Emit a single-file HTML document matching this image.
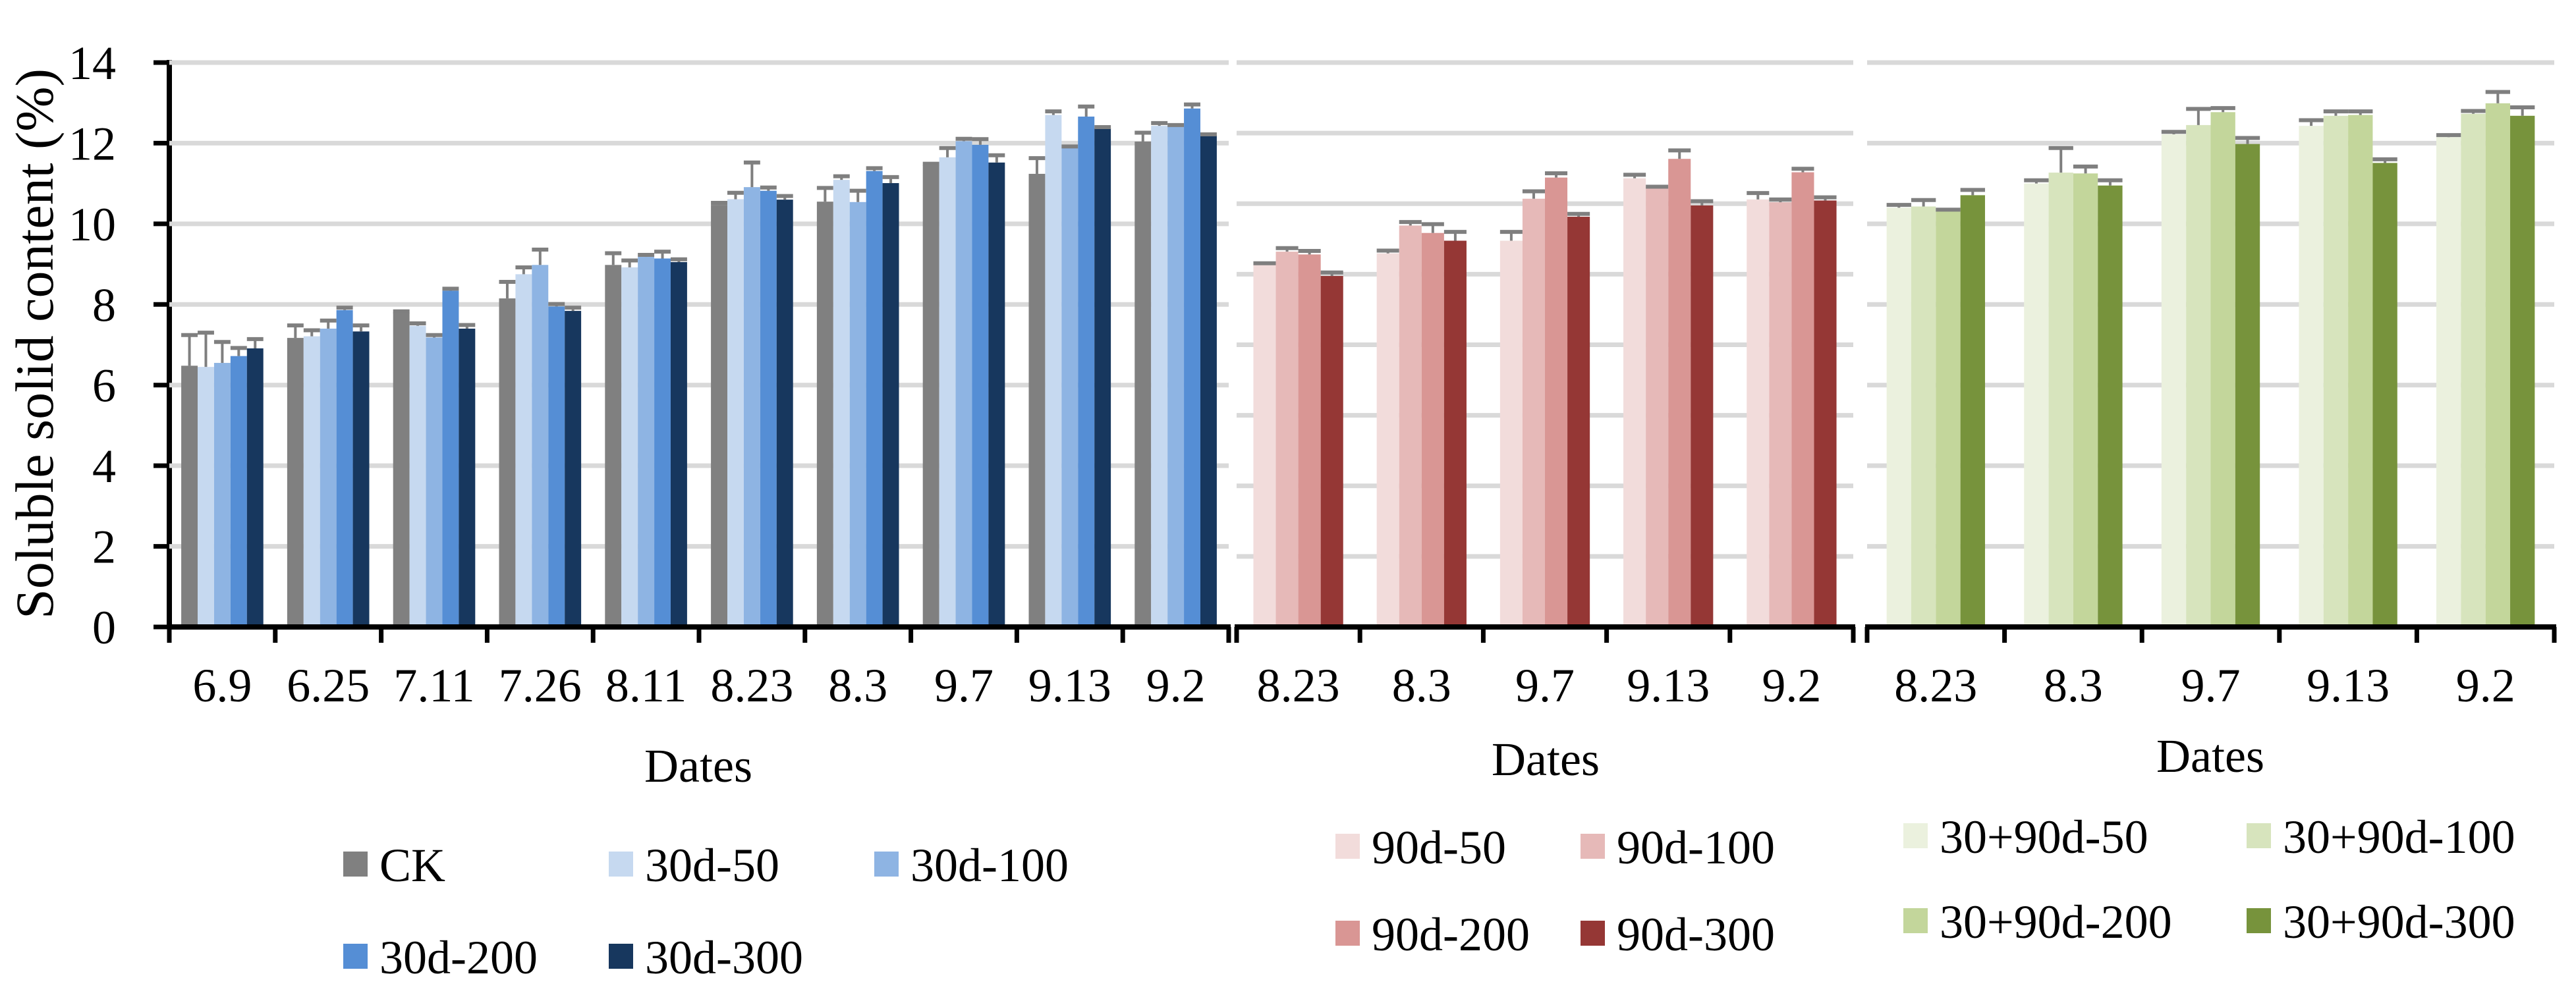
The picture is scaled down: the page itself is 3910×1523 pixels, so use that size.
<!DOCTYPE html>
<html><head><meta charset="utf-8">
<style>
html,body{margin:0;padding:0;background:#fff;}
svg{display:block;}
text{font-family:"Liberation Serif","Times New Roman",serif;fill:#000;}
</style></head>
<body>
<svg id="chart" width="3910" height="1523" viewBox="0 0 3910 1523" xmlns="http://www.w3.org/2000/svg"></svg>
<script>
const p1Categories = ["6.9","6.25","7.11","7.26","8.11","8.23","8.3","9.7","9.13","9.2"];
const p1Series = ["CK","30d-50","30d-100","30d-200","30d-300"];
const p1Values = [
 [6.48,7.17,7.80,8.15,8.98,10.47,10.55,11.46,11.24,12.04],
 [6.45,7.21,7.47,8.75,8.92,10.61,11.09,11.65,12.70,12.43],
 [6.55,7.40,7.18,8.98,9.18,10.91,10.54,12.05,11.89,12.43],
 [6.72,7.86,8.34,7.95,9.14,10.82,11.31,11.96,12.66,12.86],
 [6.91,7.33,7.40,7.84,9.05,10.60,11.01,11.52,12.37,12.20]
];
const p1Errors = [
 [0.76,0.31,0.03,0.41,0.29,0.05,0.34,0.03,0.39,0.22],
 [0.85,0.15,0.06,0.17,0.17,0.16,0.09,0.23,0.09,0.07],
 [0.52,0.20,0.06,0.38,0.05,0.61,0.28,0.06,0.03,0.02],
 [0.20,0.06,0.05,0.06,0.17,0.08,0.07,0.14,0.25,0.10],
 [0.23,0.15,0.09,0.08,0.07,0.09,0.15,0.18,0.03,0.02]
];
const p2Categories = ["8.23","8.3","9.7","9.13","9.2"];
const p2Series = ["90d-50","90d-100","90d-200","90d-300"];
const p2Values = [
 [10.26,10.59,10.95,12.72,12.12],
 [10.64,11.38,12.14,12.46,12.04],
 [10.56,11.17,12.74,13.27,12.89],
 [9.95,10.95,11.63,11.95,12.09]
];
const p2Errors = [
 [0.05,0.08,0.25,0.10,0.18],
 [0.10,0.10,0.21,0.02,0.08],
 [0.10,0.25,0.12,0.24,0.10],
 [0.10,0.25,0.08,0.12,0.09]
];
const p3Categories = ["8.23","8.3","9.7","9.13","9.2"];
const p3Series = ["30+90d-50","30+90d-100","30+90d-200","30+90d-300"];
const p3Values = [
 [10.40,11.00,12.22,12.43,12.15],
 [10.43,11.27,12.45,12.68,12.73],
 [10.32,11.25,12.77,12.70,12.99],
 [10.71,10.95,11.98,11.51,12.68]
];
const p3Errors = [
 [0.07,0.08,0.06,0.14,0.05],
 [0.16,0.61,0.40,0.11,0.07],
 [0.03,0.17,0.10,0.09,0.28],
 [0.13,0.13,0.15,0.09,0.21]
];
const yTicks = [0,2,4,6,8,10,12,14];

const NS="http://www.w3.org/2000/svg";
const svg=document.getElementById('chart');
function el(tag,attrs,parent){const e=document.createElementNS(NS,tag);for(const k in attrs)e.setAttribute(k,attrs[k]);(parent||svg).appendChild(e);return e;}
function txt(s,x,y,anchor,parent,size){const t=el('text',{x:x,y:y,'font-size':size||72,'text-anchor':anchor||'middle'},parent);t.textContent=s;return t;}

const TOP=95, BASE=952;
function panel(cfg){
  const g=el('g',{});
  
  
  const yS=v=>BASE-(v/cfg.yMax)*(BASE-TOP);
  for(let v=cfg.step; v<=cfg.yMax; v+=cfg.step){
    const l=el('line',{x1:cfg.x0,x2:cfg.x1,y1:yS(v),y2:yS(v),stroke:'#d9d9d9','stroke-width':7},g);
    
    
  }
  const n=cfg.cats.length, gw=(cfg.x1-cfg.x0)/n, bw=gw*cfg.barFrac, ns=cfg.series.length;
  for(let s=0;s<ns;s++){
    for(let i=0;i<n;i++){
      const v=cfg.vals[s][i], e=cfg.errs[s][i];
      const bx=cfg.x0+gw*i+(gw-bw*ns)/2+bw*s;
      const r=el('rect',{x:bx,y:yS(v),width:bw,height:BASE-yS(v),fill:cfg.colors[s]},g);
      
      
      const cx=bx+bw/2;
      const eg=el('g',{stroke:'#7f7f7f'},g);
      
      
      el('line',{x1:cx,x2:cx,y1:yS(v),y2:yS(v+e),'stroke-width':4},eg);
      el('line',{x1:cx-bw/2,x2:cx+bw/2,y1:yS(v+e),y2:yS(v+e),'stroke-width':6},eg);
    }
  }
  const ax=el('line',{x1:cfg.x0-3,x2:cfg.x1+3,y1:BASE,y2:BASE,stroke:'#000','stroke-width':8},g);
  
  
  for(let i=0;i<=n;i++){
    const x=cfg.x0+gw*i;
    el('line',{x1:x,x2:x,y1:BASE,y2:BASE+24,stroke:'#000','stroke-width':7},g);
  }
  for(let i=0;i<n;i++){
    const t=txt(cfg.cats[i],cfg.x0+gw*(i+0.5),1065,'middle',g);
    
    
  }
  const d=txt('Dates',cfg.datesX,cfg.datesY,'middle',g);
  
  
  cfg.legend.forEach((L,k)=>{
    const lg=el('g',{},g);
    
    
    el('rect',{x:L[0],y:L[1]-19,width:37,height:38,fill:cfg.colors[k]},lg);
    txt(cfg.series[k],L[0]+55,L[1]+26,'start',lg);
  });
}

const yax=el('line',{x1:257,x2:257,y1:TOP-4,y2:BASE+3,stroke:'#000','stroke-width':8});


yTicks.forEach(v=>{
  const y=BASE-(v/14)*(BASE-TOP);
  el('line',{x1:233,x2:257,y1:y,y2:y,stroke:'#000','stroke-width':7});
  const t=txt(String(v),176,y+25,'end');
  
  
});
const yt=txt('Soluble solid content (%)',0,0,'middle',null,82);
yt.setAttribute('transform','translate(80,522) rotate(-90)');



panel({name:'panel-30d',x0:257,x1:1865,yMax:14,step:2,cats:p1Categories,series:p1Series,vals:p1Values,errs:p1Errors,
  barFrac:0.155,colors:['#808080','#c6d9f0','#8eb4e3','#558ed5','#17375e'],datesX:1060,datesY:1187,
  legend:[[521,1312],[924,1312],[1327,1312],[521,1452],[924,1452]]});
panel({name:'panel-90d',x0:1877,x1:2813,yMax:16,step:2,cats:p2Categories,series:p2Series,vals:p2Values,errs:p2Errors,
  barFrac:0.182,colors:['#f2dcdb','#e6b9b8','#d99694','#953735'],datesX:2346,datesY:1177,
  legend:[[2027,1285],[2399,1285],[2027,1417],[2399,1417]]});
panel({name:'panel-30-90d',x0:2834,x1:3877,yMax:14,step:2,cats:p3Categories,series:p3Series,vals:p3Values,errs:p3Errors,
  barFrac:0.179,colors:['#ebf1de','#d7e4bd','#c3d69b','#77933c'],datesX:3355,datesY:1172,
  legend:[[2889,1269],[3410,1269],[2889,1398],[3410,1398]]});
</script>
</body></html>
